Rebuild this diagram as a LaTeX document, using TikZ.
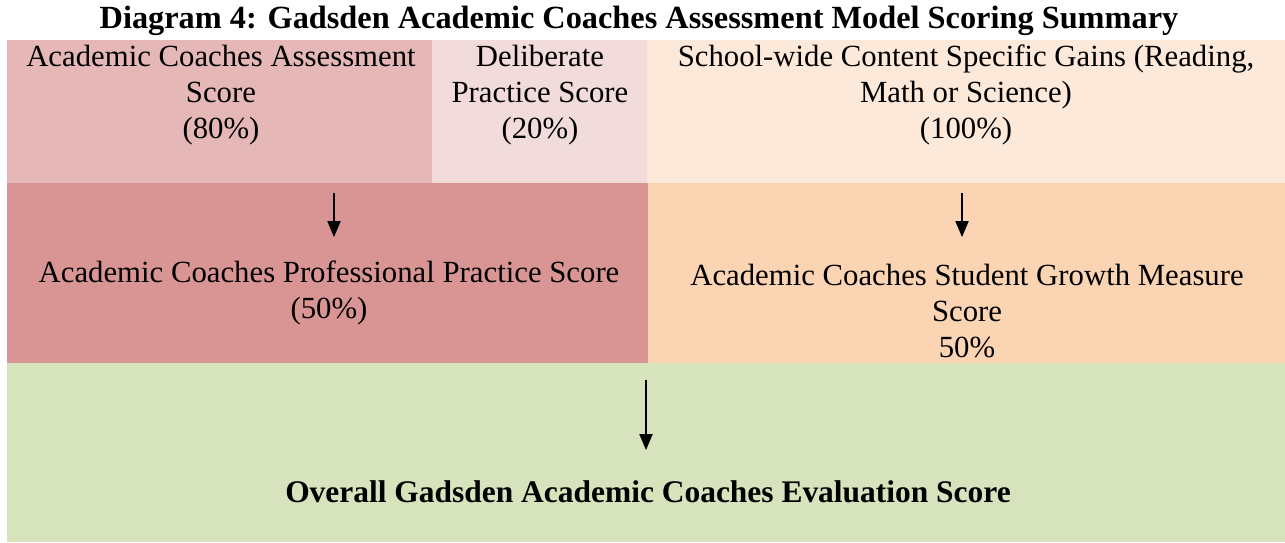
\documentclass[tikz,border=0pt]{standalone}
\usepackage{fontspec}
\setmainfont{Liberation Serif}
\usepackage{tikz}
\usetikzlibrary{arrows}

\definecolor{asscol}{HTML}{E5B8B7}
\definecolor{delcol}{HTML}{F2DBDB}
\definecolor{gaincol}{HTML}{FDE9D9}
\definecolor{profcol}{HTML}{D99594}
\definecolor{growcol}{HTML}{FBD4B4}
\definecolor{evalcol}{HTML}{D6E3BC}

\begin{document}
\begin{tikzpicture}[>=triangle 45]
	\tikzset{cell/.style={rectangle, inner sep=0pt, anchor=north west}}
	\tikzset{txt/.style={align=center, inner sep=1pt, font=\fontsize{17.5}{20.5}\selectfont}}
	\pgfmathsetmacro{\W}{25.7};
	\pgfmathsetmacro{\H}{10.84};
	\useasboundingbox (0,0) rectangle (\W,-\H);
	% the colored cells
	\node (ass) at (0.14,-0.8)[cell, fill=asscol, minimum width=8.5cm, minimum height=2.86cm] {};
	\node (del) at (8.64,-0.8)[cell, fill=delcol, minimum width=4.3cm, minimum height=2.86cm] {};
	\node (gain) at (12.94,-0.8)[cell, fill=gaincol, minimum width=12.76cm, minimum height=2.86cm] {};
	\node (prof) at (0.14,-3.66)[cell, fill=profcol, minimum width=12.82cm, minimum height=3.6cm] {};
	\node (grow) at (12.96,-3.66)[cell, fill=growcol, minimum width=12.74cm, minimum height=3.6cm] {};
	\node (eval) at (0.14,-7.26)[cell, fill=evalcol, minimum width=25.56cm, minimum height=3.58cm] {};
	% title
	\node (title) at (12.78,-0.42)[txt, font=\fontsize{18.4}{21}\selectfont\bfseries] {Diagram 4: Gadsden Academic Coaches Assessment Model Scoring Summary};
	% texts
	\node (asst) at (4.42,-1.9)[txt] {Academic Coaches Assessment\\Score\\(80\%)};
	\node (delt) at (10.8,-1.9)[txt] {Deliberate\\Practice Score\\(20\%)};
	\node (gaint) at (19.32,-1.9)[txt] {School-wide Content Specific Gains (Reading,\\Math or Science)\\(100\%)};
	\node (proft) at (6.58,-5.86)[txt] {Academic Coaches Professional Practice Score\\(50\%)};
	\node (growt) at (19.34,-6.22)[txt] {Academic Coaches Student Growth Measure\\Score\\50\%};
	\node (evalt) at (12.96,-9.84)[txt, font=\fontsize{17.9}{21}\selectfont\bfseries] {Overall Gadsden Academic Coaches Evaluation Score};
	% arrows
	\coordinate (la) at (6.68,-3.86);
	\coordinate (lb) at (6.68,-4.74);
	\coordinate (ra) at (19.24,-3.86);
	\coordinate (rb) at (19.24,-4.74);
	\coordinate (ma) at (12.92,-7.6);
	\coordinate (mb) at (12.92,-9.0);
	\draw[->, line width=1.1pt] (la) -- (lb);
	\draw[->, line width=1.1pt] (ra) -- (rb);
	\draw[->, line width=1.1pt] (ma) -- (mb);
\end{tikzpicture}
\end{document}
